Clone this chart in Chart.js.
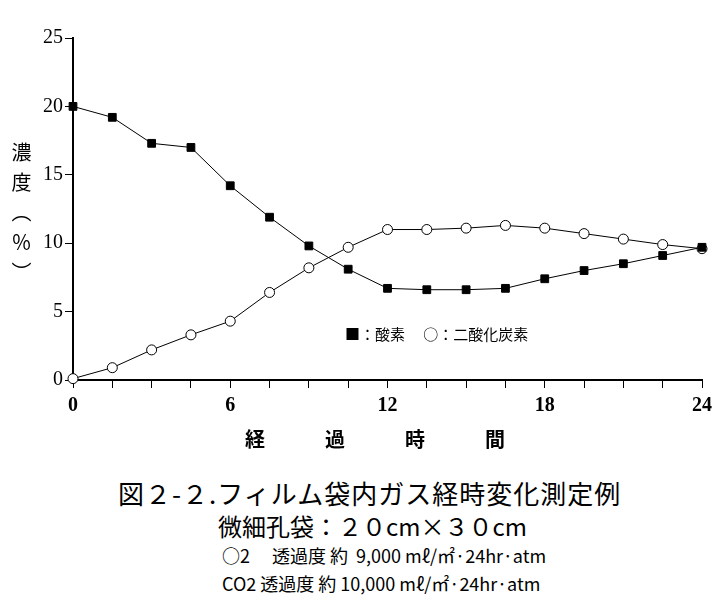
<!DOCTYPE html>
<html><head><meta charset="utf-8">
<script src="https://cdn.jsdelivr.net/npm/chart.js@4/dist/chart.umd.min.js"></script>
<style>
body{margin:0;background:#fff;font-family:"Noto Sans CJK JP",serif;color:#000}
#wrap{position:relative;width:725px;height:613px}
canvas{position:absolute;left:0;top:0}
.t{position:absolute;white-space:pre;color:#000}
</style></head><body>
<div id="wrap">
<canvas id="c" width="725" height="450"></canvas>
<div class="t" style="left:245px;top:424px;font-size:20px;font-weight:bold">経　　　過　　　時　　　間</div>
<div class="t" style="left:8px;top:142px;font-size:20px;writing-mode:vertical-rl;line-height:26px;letter-spacing:10px">濃度（％）</div>
<div class="t" style="left:345px;top:323px;font-size:15px">■：酸素　 ○：二酸化炭素</div>
<div class="t" style="left:118px;top:474px;font-size:26px;letter-spacing:1px">図２-２.フィルム袋内ガス経時変化測定例</div>
<div class="t" style="left:218px;top:508px;font-size:24px">微細孔袋：２０cm×３０cm</div>
<div class="t" style="left:222px;top:542px;font-size:18px">○2　 透過度 約  9,000 mℓ/㎡·24hr·atm</div>
<div class="t" style="left:222px;top:570px;font-size:18px">CO2 透過度 約 10,000 mℓ/㎡·24hr·atm</div>
</div>
<script>
const hours=[0,1.5,3,4.5,6,7.5,9,10.5,12,13.5,15,16.5,18,19.5,21,22.5,24];
const oxygen=[20,19.2,17.3,17.0,14.2,11.9,9.8,8.1,6.7,6.6,6.6,6.7,7.4,8.0,8.5,9.1,9.7];
const co2=[0.1,0.9,2.2,3.3,4.3,6.4,8.2,9.7,11.0,11.0,11.1,11.3,11.1,10.7,10.3,9.9,9.6];
const xTickLabels=[0,6,12,18,24];
const pts=a=>a.map((v,i)=>({x:hours[i],y:v}));
new Chart(document.getElementById('c'),{
 type:'scatter',
 data:{datasets:[
  {data:pts(oxygen),showLine:true,borderColor:'#000',borderWidth:1,backgroundColor:'#000',pointStyle:'rect',pointRadius:5.5,clip:false},
  {data:pts(co2),showLine:true,borderColor:'#000',borderWidth:1,backgroundColor:'#fff',pointStyle:'circle',pointRadius:5,pointBorderWidth:1,clip:false}
 ]},
 options:{responsive:false,animation:false,
  layout:{padding:{left:0,right:23,top:38,bottom:0}},
  plugins:{legend:{display:false},tooltip:{enabled:false}},
  scales:{
   x:{type:'linear',min:0,max:24,
     afterFit:s=>{s.height=70;},
     afterBuildTicks:s=>{s.ticks=hours.map(v=>({value:v}));},
     ticks:{autoSkip:false,maxRotation:0,color:'#000',font:{family:'Liberation Serif',size:20,weight:'bold'},padding:6,
       callback:v=>xTickLabels.includes(v)?String(v):''},
     grid:{drawOnChartArea:false,color:'#000',tickLength:8,tickWidth:1},
     border:{color:'#000',width:2}},
   y:{min:0,max:25,
     afterFit:s=>{s.width=73;},
     ticks:{stepSize:5,color:'#000',font:{family:'Liberation Serif',size:20},padding:2},
     grid:{drawOnChartArea:false,color:'#000',tickLength:8},
     border:{color:'#000',width:2}}
  }}
});
</script>
</body></html>
